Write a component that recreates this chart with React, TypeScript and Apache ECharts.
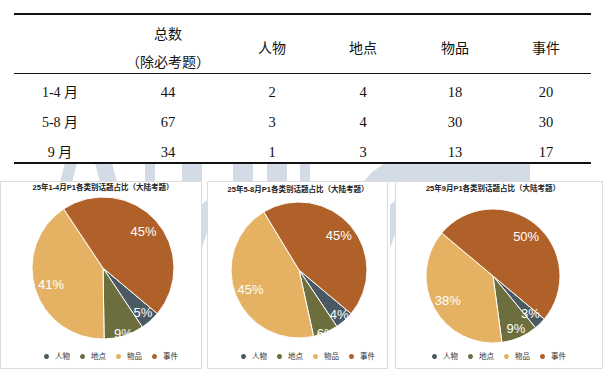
import React, { useEffect, useRef } from "react";
import * as echarts from "echarts";

const categories = ["人物", "地点", "物品", "事件"];
const periods = ["1-4 月", "5-8 月", "9 月"];
const totals = [44, 67, 34];
const values1to4 = [2, 4, 18, 20];
const values5to8 = [3, 4, 30, 30];
const values9 = [1, 3, 13, 17];
const headerTotal = ["总数", "（除必考题）"];
const chartTitles = [
  "25年1-4月P1各类别话题占比（大陆考题）",
  "25年5-8月P1各类别话题占比（大陆考题）",
  "25年9月P1各类别话题占比（大陆考题）",
];
const colors = ["#4b5a62", "#6c6e3e", "#e4b262", "#b0612a"];

const tableRows = [values1to4, values5to8, values9];

// layout (pixels / ratios)
const colX = [60, 168, 272, 363, 455, 546];
const rowY = [92, 122, 152];
const pies = [
  { center: [103, 268], r: 71, title: [103, 187], legendLeft: 42, labelInner: [0.6, 0.86, 0.45, 0.45] },
  { center: [299, 270], r: 68, title: [298, 189], legendLeft: 239, labelInner: [0.68, 0.94, 0.45, 0.45] },
  { center: [493, 276], r: 67, title: [493, 188], legendLeft: 430, labelInner: [0.5, 0.62, 0.45, 0.45] },
];
const panels = [
  [0.5, 181.5, 201, 187],
  [207.5, 181.5, 180, 187],
  [395.5, 181.5, 207, 187],
];

const serif = "'Liberation Serif', 'Times New Roman', 'Noto Sans CJK SC', serif";
const sans = "'Liberation Sans', 'Noto Sans CJK SC', sans-serif";

function txt(text: string, x: number, y: number, size: number, family: string, extra: any = {}) {
  return {
    type: "text",
    x,
    y,
    z: 3,
    style: {
      text,
      fontSize: size,
      fontFamily: family,
      fill: "#111",
      align: "center",
      verticalAlign: "middle",
      textAlign: "center",
      textVerticalAlign: "middle",
      ...extra,
    },
  };
}

export default function App() {
  const ref = useRef<HTMLDivElement>(null);
  useEffect(() => {
    if (!ref.current) return;
    const chart = echarts.init(ref.current, undefined, { renderer: "svg" });
    const wm = "#d3dbe6";
    const graphics: any[] = [];
    // watermark fragments
    const wmPolys = [
      [[65, 163], [77, 163], [72, 182], [60, 182]],
      [[95, 163], [112, 163], [117, 182], [100, 182]],
      [[145, 163], [155, 163], [155, 182], [145, 182]],
      [[182, 163], [202, 163], [202, 182], [182, 182]],
      [[201, 205], [207, 200], [207, 232], [202, 248]],
      [[233, 163], [253, 163], [253, 182], [233, 182]],
      [[267, 163], [287, 163], [287, 182], [267, 182]],
      [[300, 163], [310, 163], [310, 182], [300, 182]],
      [[385, 163], [530, 163], [530, 182], [363, 182], [372, 172]],
      [[390, 205], [396, 200], [396, 232], [390, 248]],
    ];
    wmPolys.forEach((p) =>
      graphics.push({ type: "polygon", z: 0, shape: { points: p }, style: { fill: wm } })
    );
    // panels
    panels.forEach((p) =>
      graphics.push({
        type: "rect",
        z: 1,
        shape: { x: p[0], y: p[1], width: p[2], height: p[3] },
        style: { fill: "#fff", stroke: "#dcdcdc", lineWidth: 1 },
      })
    );
    // table rules
    graphics.push({ type: "line", z: 3, shape: { x1: 14, y1: 14, x2: 591, y2: 14 }, style: { stroke: "#111", lineWidth: 2 } });
    graphics.push({ type: "line", z: 3, shape: { x1: 14, y1: 73.5, x2: 591, y2: 73.5 }, style: { stroke: "#111", lineWidth: 1 } });
    graphics.push({ type: "line", z: 3, shape: { x1: 14, y1: 163, x2: 591, y2: 163 }, style: { stroke: "#111", lineWidth: 2 } });
    // header
    graphics.push(txt(headerTotal[0], colX[1], 34, 14, serif));
    graphics.push(txt(headerTotal[1], colX[1], 62, 14, serif));
    categories.forEach((c, j) => graphics.push(txt(c, colX[j + 2], 48, 14, serif)));
    // body
    periods.forEach((p, i) => {
      graphics.push(txt(p, colX[0], rowY[i], 14, serif));
      graphics.push(txt(String(totals[i]), colX[1], rowY[i], 14.5, serif));
      tableRows[i].forEach((v, j) => graphics.push(txt(String(v), colX[j + 2], rowY[i], 14.5, serif)));
    });
    // chart titles
    pies.forEach((p, i) =>
      graphics.push(txt(chartTitles[i], p.title[0], p.title[1], 7.5, sans, { fontWeight: "bold", fill: "#222" }))
    );

    const labelStyle = {
      position: "inside",
      color: "#ffffff",
      fontSize: 13,
      fontFamily: sans,
      formatter: (d: any) => Math.round(d.percent) + "%",
    };

    const series: any[] = [];
    pies.forEach((p, i) => {
      series.push({
        type: "pie",
        center: p.center,
        radius: [0, p.r],
        startAngle: -40,
        clockwise: true,
        z: 2,
        label: { show: false },
        labelLine: { show: false },
        itemStyle: { borderColor: "#ffffff", borderWidth: 1 },
        emphasis: { disabled: true },
        data: categories.map((c, j) => ({ name: c, value: tableRows[i][j], itemStyle: { color: colors[j] } })),
      });
    });
    // transparent carrier rings that place the percentage labels
    pies.forEach((p, i) => {
      const rings = Array.from(new Set(p.labelInner));
      rings.forEach((inner) => {
        series.push({
          type: "pie",
          center: p.center,
          radius: [p.r * inner, p.r],
          startAngle: -40,
          clockwise: true,
          silent: true,
          z: 3,
          avoidLabelOverlap: false,
          labelLayout: { hideOverlap: false },
          itemStyle: { color: "rgba(0,0,0,0)", borderWidth: 0 },
          labelLine: { show: false },
          label: { show: true, ...labelStyle },
          emphasis: { disabled: true },
          data: categories.map((c, j) => ({
            name: c,
            value: tableRows[i][j],
            label: { show: p.labelInner[j] === inner },
          })),
        });
      });
    });

    chart.setOption({
      animation: false,
      backgroundColor: "#ffffff",
      color: colors,
      graphic: graphics,
      legend: pies.map((p) => ({
        data: categories,
        left: p.legendLeft,
        top: 352,
        padding: 0,
        icon: "circle",
        itemWidth: 7,
        itemHeight: 7,
        itemGap: 8,
        selectedMode: false,
        textStyle: { fontSize: 7.5, color: "#333", fontFamily: sans },
      })),
      series,
    });
    return () => chart.dispose();
  }, []);
  return (
    <div
      ref={ref}
      style={{ position: "absolute", left: 0, top: 0, width: 603, height: 374 }}
    />
  );
}
